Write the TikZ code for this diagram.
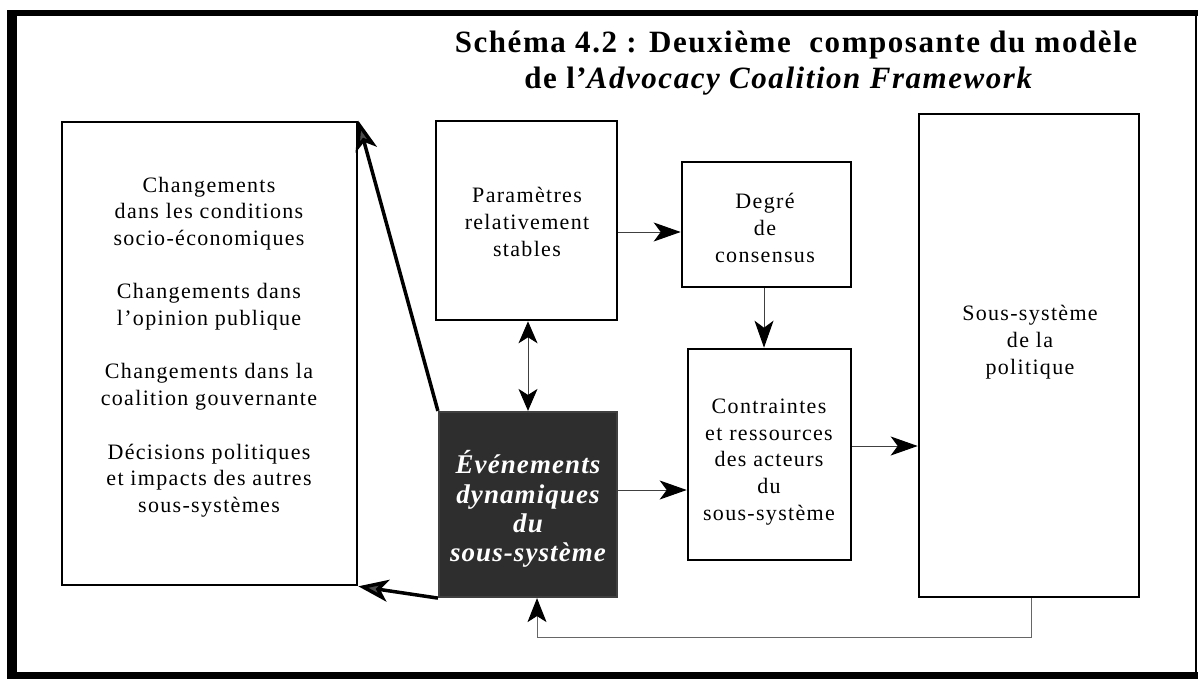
\documentclass[tikz,border=0pt]{standalone}
\usepackage{fontspec}
\setmainfont{Liberation Serif}
\newfontfamily\bodyfont[LetterSpace=6]{Liberation Serif}
\newfontfamily\headfont[LetterSpace=5]{Liberation Serif}
\newfontfamily\darkfont[LetterSpace=4]{Liberation Serif}
\usetikzlibrary{arrows.meta}

\begin{document}
\begin{tikzpicture}[x=1pt,y=-1pt,
  box/.style={draw=black, line width=2.6pt, inner sep=0pt},
  darkbox/.style={draw=black!75, fill=black!82, line width=2.2pt, inner sep=0pt},
  label/.style={align=center, inner sep=0pt, font=\bodyfont\fontsize{22}{26.7}\selectfont},
  darklabel/.style={align=center, inner sep=0pt, text=white,
    font=\darkfont\bfseries\itshape\fontsize{27}{29.3}\selectfont},
  headline/.style={inner sep=0pt, anchor=base, font=\headfont\bfseries\fontsize{31}{36}\selectfont},
  thinarrow/.style={line width=1pt, draw=black!75,
    -{Stealth[length=27pt,width=19pt,inset=7pt,color=black]}},
  twoway/.style={line width=1pt, draw=black!75,
    {Stealth[length=22pt,width=19pt,inset=6pt,color=black]}-{Stealth[length=22pt,width=19pt,inset=6pt,color=black]}},
  heavyarrow/.style={line width=3.5pt, draw=black,
    -{Stealth[length=30pt,width=22pt,inset=8pt,fill=black!70]}},
  feedback/.style={line width=1pt, draw=black!60,
    -{Stealth[length=24pt,width=19pt,inset=6pt,color=black]}}
]
\useasboundingbox (0,0) rectangle (1201,679);

% outer frame
\fill[black] (7,10) rectangle (1198,16);
\fill[black] (7,10) rectangle (17,679);
\fill[black] (7,672) rectangle (1198,679);
\draw[line width=2pt] (1196,14) -- (1196,673);

% heading
\node[headline] (head1) at (796,53) {Schéma 4.2 : Deuxième\ \ composante du modèle};
\node[headline] (head2) at (779,89) {de l’\textit{Advocacy Coalition Framework}};

% boxes
\node[box, minimum width=295pt, minimum height=463pt] (left) at (209.5,353.5) {};
\node[box, minimum width=181pt, minimum height=199pt] (param) at (526.5,220.5) {};
\node[box, minimum width=169pt, minimum height=125pt] (degre) at (766.5,224.5) {};
\node[box, minimum width=163pt, minimum height=211pt] (contr) at (769.5,454.5) {};
\node[box, minimum width=220pt, minimum height=483pt] (sous) at (1029,355.5) {};
\node[darkbox, minimum width=178pt, minimum height=185pt] (dyn) at (528,504.5) {};

% texts
\node[label] (leftT) at (209,347) {Changements\\dans les conditions\\socio-économiques\\[26.7pt]
  Changements dans\\l’opinion publique\\[26.7pt]
  Changements dans la\\coalition gouvernante\\[26.7pt]
  Décisions politiques\\et impacts des autres\\sous-systèmes};
\node[label] (paramT) at (527,222) {Paramètres\\relativement\\stables};
\node[label] (degreT) at (765,228) {Degré\\de\\consensus};
\node[label] (contrT) at (769,462) {Contraintes\\et ressources\\des acteurs\\du\\sous-système};
\node[label] (sousT) at (1030,342) {Sous-système\\de la\\politique};
\node[darklabel] (dynT) at (528,509) {Événements\\dynamiques\\du\\sous-système};

% connectors
\draw[thinarrow] (param.east |- 0,232) -- (degre.west |- 0,232);
\draw[thinarrow] (degre.south -| 764,0) -- (contr.north -| 764,0);
\draw[twoway] (param.south -| 528,0) -- (dyn.north -| 528,0);
\draw[thinarrow] (dyn.east |- 0,490) -- (contr.west |- 0,490);
\draw[thinarrow] (contr.east |- 0,446) -- (sous.west |- 0,446);
\draw[feedback] (sous.south -| 1031,0) -- ++(0,39) -| (dyn.south -| 537,0);
\draw[heavyarrow] (dyn.north west) -- (left.north east);
\draw[heavyarrow] (dyn.south west) -- (left.south east);
\end{tikzpicture}
\end{document}
